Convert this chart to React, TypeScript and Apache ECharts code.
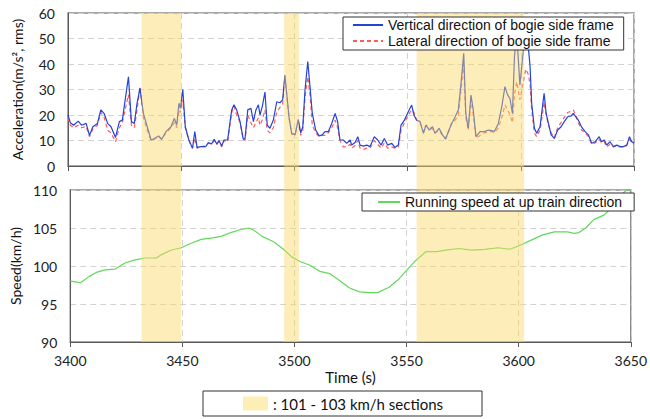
import React, { useEffect, useRef } from "react";
import * as echarts from "echarts";

const accTime = [
  3400, 3401, 3402.5, 3404.5, 3406, 3408, 3409.5, 3411, 3413, 3414.5, 3416, 3417.5, 3419, 3421, 3422.7, 3424,
  3426.7, 3428, 3429.3, 3430.5, 3431.8, 3433.3, 3435, 3436.7, 3438.2, 3440, 3441.4, 3443.3, 3445.5, 3447, 3448,
  3449, 3449.6, 3450.7, 3451.8, 3453.4, 3455, 3456, 3457, 3458.8, 3461, 3462, 3463.4, 3464.6, 3465.7, 3466.7,
  3467.9, 3468.9, 3470.5, 3472.3, 3473.3, 3474.5, 3476, 3477.4, 3478.2, 3479.4, 3480.8, 3481.9, 3483, 3484.1,
  3484.8, 3485.8, 3487, 3488, 3489.2, 3490.7, 3492.2, 3493.6, 3494.8, 3495.8, 3496.6, 3497.6, 3498.8, 3500.3,
  3501.7, 3502.8, 3503.7, 3504.7, 3505.9, 3506.9, 3507.9, 3509.4, 3510.9, 3512.3, 3513.5, 3515, 3516.5, 3518,
  3519.1, 3520.1, 3521.6, 3523.1, 3524.6, 3525.3, 3526.8, 3528, 3529, 3530.4, 3532, 3533.4, 3535.3, 3536.8,
  3538.3, 3539.7, 3541.2, 3543, 3544.4, 3545.9, 3547.1, 3548.6, 3550.3, 3551.8, 3552.8, 3554, 3555.5, 3557,
  3558.1, 3559.6, 3561, 3562.1, 3563.9, 3565.4, 3566.8, 3568, 3569.5, 3571, 3572.4, 3573.6, 3574.8, 3575.7,
  3576.8, 3578, 3579, 3580.2, 3582, 3584, 3585.7, 3587.1, 3588.3, 3590.1, 3591.6, 3593, 3594.2, 3595.2, 3596.3,
  3597.2, 3598.2, 3599.6, 3601.1, 3602.2, 3603.3, 3604.1, 3604.8, 3606, 3607, 3608.5, 3609.2, 3610.3, 3611.2,
  3612.2, 3613.4, 3614.8, 3616.3, 3617.8, 3619.2, 3620.7, 3622.2, 3623.2, 3624.3, 3625.4, 3626.9, 3628.4,
  3629.9, 3631.3, 3632.8, 3634.6, 3635.7, 3636.9, 3637.9, 3639.4, 3640.9, 3642.4, 3643.8, 3645.3, 3646.8,
  3648, 3649, 3650,
];

const accVertical = [
  20, 17, 16, 17.6, 16, 16.7, 12, 15.4, 16.7, 22, 20.5, 16.7, 15.4, 11.2, 17.4, 18,
  35, 17.4, 16.7, 24.6, 30.5, 20.6, 15.4, 10.2, 10.8, 11.8, 10.5, 13.5, 15.4, 18.7, 16,
  24.6, 22.6, 30, 15.4, 10.2, 7, 13.5, 7.3, 7.6, 7.8, 9.2, 8.6, 10.5, 8.6, 10,
  7.8, 10.2, 10.2, 22, 24, 22, 17.4, 10.5, 10.8, 22, 22.6, 17.4, 22, 24,
  20, 23.3, 29, 16, 14.8, 18, 25.2, 24.8, 25.9, 35.7, 28.5, 19.3, 12.8, 12.2,
  18.3, 13, 15.4, 30, 41, 31, 20.6, 14.1, 11.8, 12.2, 13.5, 13.5, 16.7, 20.6,
  17.4, 10.2, 10.2, 8.9, 10.2, 8.2, 9.2, 11.5, 8.2, 7.8, 8.2, 7.6, 11.5, 10.2,
  8.2, 10.8, 8.2, 8.9, 7.3, 8.2, 16, 18, 21.3, 23.9, 20, 18, 17.4, 12.8,
  16, 14.1, 15.4, 12.8, 14.8, 12.2, 10.5, 13.5, 16.7, 19.3, 22, 32.4, 44.2, 20.6,
  14.8, 27.8, 22, 11.5, 13.5, 13.5, 14.1, 13.9, 13.5, 16.7, 23.3, 31.1, 27.8, 26.5, 20.6,
  42.9, 52, 31.8, 45, 55, 46.8, 39, 24.6, 14.8, 12.8, 15.4, 20.6, 28.5, 20.6,
  16.7, 12.2, 10.8, 14.1, 15.4, 17.4, 19.3, 19.6, 20.6, 19.3, 18, 15.2, 13.5,
  12.2, 8.9, 9.5, 11.5, 9.5, 10.2, 8.2, 9.5, 7.6, 8.2, 7.6, 7.6, 8.2,
  11.5, 9.5, 8.9,
];

const accLateral = [
  19, 16, 15, 16, 15, 15.5, 11.5, 14.5, 16, 21, 19, 14, 13, 9.5, 15, 17,
  28, 16, 15, 22, 31, 19, 14, 10, 10.5, 11.5, 10.5, 13, 15, 17, 15,
  22, 21, 26, 15, 10, 7, 11, 7, 7.5, 7.5, 9, 8.5, 10, 8.5, 9.5,
  7.5, 10, 9.5, 21, 23.5, 20, 17, 10.5, 10, 20, 17, 15, 17, 19,
  16, 18, 22, 14, 13, 15, 21, 23, 24, 35, 28, 19, 12.5, 12.5,
  17, 12, 14, 27, 35, 28, 16, 13, 11.5, 12, 12, 13, 15, 18,
  15, 10, 7.5, 7.5, 8.5, 7, 8, 10, 7, 6.5, 7, 7, 10, 8.5,
  7, 9, 7, 7.5, 7, 7.5, 14, 17, 20, 22, 21, 18, 17, 13.5,
  16, 15, 14.5, 13, 14, 12, 11, 13, 17, 18, 20, 30, 40, 19,
  14, 26, 20, 11, 12, 13, 13.5, 13.5, 13, 15, 19, 24, 22, 20, 17,
  28, 33, 26, 33, 38, 36, 32, 22, 13, 11.5, 14, 18, 25, 20,
  16, 13, 11, 15, 17, 19, 21, 21.5, 22, 20, 17, 14, 13,
  11.5, 8.5, 9, 10.5, 9, 9.5, 7.5, 8.5, 7.5, 8, 7.5, 7.5, 8,
  10.5, 9, 8.5,
];

const speedTime = [
  3400, 3402.4, 3404.6, 3408.3, 3412, 3415.6, 3420, 3424.4, 3428.9, 3433.3, 3438.4, 3440.7, 3445.1, 3449.5,
  3453.9, 3458.4, 3463.5, 3467.2, 3471.6, 3476, 3479.7, 3481.9, 3485.6, 3490.7, 3495.1, 3498.8, 3502.5,
  3506.9, 3511.3, 3515.7, 3520.1, 3524.6, 3529, 3533.4, 3537.1, 3542.2, 3546.6, 3549.9, 3554, 3558.7,
  3563.6, 3567.3, 3573.2, 3579, 3584.9, 3590.8, 3596, 3599.7, 3605.6, 3610.7, 3615.9, 3621.8, 3624.7,
  3626.9, 3629.9, 3633.5, 3638, 3640.9, 3643.8, 3648.2, 3650,
];

const speedValues = [
  98.0, 97.9, 97.8, 98.6, 99.2, 99.5, 99.6, 100.4, 100.8, 101.05, 101.05, 101.5, 102.1, 102.4,
  103.0, 103.5, 103.7, 103.9, 104.4, 104.8, 105.0, 104.7, 103.9, 103.2, 102.2, 101.2, 100.6,
  100.1, 99.3, 99.0, 98.1, 97.1, 96.6, 96.5, 96.5, 97.2, 98.3, 99.4, 100.7, 101.9,
  101.9, 102.1, 102.3, 102.1, 102.2, 102.4, 102.2, 102.6, 103.4, 104.1, 104.5, 104.5, 104.3,
  104.4, 105.0, 106.1, 106.7, 107.5, 108.9, 110, 110,
];

// 101 - 103 km/h sections (start, end in seconds)
const shadeStart = [3432.5, 3495.5, 3554];
const shadeEnd = [3450, 3502, 3601.5];

const timeTicks = { min: 3400, max: 3650, interval: 50 };

const FONT = "Lato";

export default function App() {
  const ref = useRef<HTMLDivElement>(null);

  useEffect(() => {
    if (!ref.current) return;
    const chart = echarts.init(ref.current, undefined, { renderer: "svg" });

    const dashed = { show: true, lineStyle: { color: "#d2d2d2", type: [6, 4] as any, width: 1 } };
    const axisLine = { show: true, lineStyle: { color: "#595959", width: 1 } };
    const labelStyle = { fontFamily: FONT, fontSize: 14, color: "#222", formatter: (v: number) => String(v) };

    const pairs = (xs: number[], ys: number[]) => xs.map((x, i) => [x, ys[i]]);

    const option: any = {
      animation: false,
      backgroundColor: "#fff",
      grid: [
        { left: 68, right: 16, top: 13, height: 153, show: true, borderColor: "#8c8c8c", borderWidth: 1.5, backgroundColor: "transparent" },
        { left: 68, right: 16, top: 190, height: 152, show: true, borderColor: "#8c8c8c", borderWidth: 1.5, backgroundColor: "transparent" },
        { left: 68, right: 16, top: 13, height: 329 },
      ],
      xAxis: [
        {
          type: "value", gridIndex: 0, ...timeTicks,
          axisLine, axisTick: { show: true, length: 5, lineStyle: { color: "#595959" } },
          axisLabel: { show: false }, splitLine: dashed,
        },
        {
          type: "value", gridIndex: 1, ...timeTicks,
          axisLine, axisTick: { show: true, length: 5, lineStyle: { color: "#595959" } },
          axisLabel: { ...labelStyle, margin: 11 }, splitLine: dashed,
          name: "Time (s)", nameLocation: "middle", nameGap: 27,
          nameTextStyle: { fontFamily: FONT, fontSize: 15, color: "#111" },
        },
        { type: "value", gridIndex: 2, ...timeTicks, show: false },
      ],
      yAxis: [
        {
          type: "value", gridIndex: 0, min: 0, max: 60, interval: 10,
          axisLine, axisTick: { show: false }, axisLabel: { ...labelStyle, margin: 13 }, splitLine: dashed,
          name: "Acceleration(m/s², rms)", nameLocation: "middle", nameGap: 44,
          nameTextStyle: { fontFamily: FONT, fontSize: 14, color: "#111" },
        },
        {
          type: "value", gridIndex: 1, min: 90, max: 110, interval: 5,
          axisLine, axisTick: { show: false }, axisLabel: { ...labelStyle, margin: 13 }, splitLine: dashed,
          name: "Speed(km/h)", nameLocation: "middle", nameGap: 44,
          nameTextStyle: { fontFamily: FONT, fontSize: 14, color: "#111" },
        },
        { type: "value", gridIndex: 2, min: 0, max: 1, show: false },
      ],
      legend: [
        {
          data: ["Vertical direction of bogie side frame", "Lateral direction of bogie side frame"],
          orient: "vertical", left: 343, top: 17, itemWidth: 30, itemHeight: 14, itemGap: 2,
          padding: [1, 10, 2, 9], borderColor: "#333", borderWidth: 1, backgroundColor: "#fff",
          itemStyle: { opacity: 0 },
          textStyle: { fontFamily: "Liberation Sans", fontSize: 14, color: "#111" }, z: 20,
        },
        {
          data: ["Running speed at up train direction"],
          left: 362, top: 193, itemWidth: 22, itemHeight: 14,
          padding: [2, 12, 2, 15], borderColor: "#333", borderWidth: 1, backgroundColor: "#fff",
          itemStyle: { opacity: 0 },
          textStyle: { fontFamily: "Liberation Sans", fontSize: 14, color: "#111" }, z: 20,
        },
        {
          data: [{ name: ": 101 - 103 km/h sections", icon: "rect" }],
          left: 203, top: 391, itemWidth: 25, itemHeight: 14, itemGap: 10,
          padding: [5, 39, 5, 40], borderColor: "#333", borderWidth: 1, backgroundColor: "#fff",
          textStyle: { fontFamily: FONT, fontSize: 15, color: "#111" }, z: 20,
        },
      ],
      series: [
        {
          name: "Vertical direction of bogie side frame", type: "line", xAxisIndex: 0, yAxisIndex: 0,
          data: pairs(accTime, accVertical), symbol: "none", z: 3,
          lineStyle: { color: "#2443d8", width: 1.2 }, itemStyle: { color: "#2443d8" },
        },
        {
          name: "Lateral direction of bogie side frame", type: "line", xAxisIndex: 0, yAxisIndex: 0,
          data: pairs(accTime, accLateral), symbol: "none", z: 2,
          lineStyle: { color: "#ff5c5c", width: 1.2, type: [4, 3] }, itemStyle: { color: "#ff5c5c" },
        },
        {
          name: "Running speed at up train direction", type: "line", xAxisIndex: 1, yAxisIndex: 1,
          data: pairs(speedTime, speedValues), symbol: "none",
          lineStyle: { color: "#62d85a", width: 1.2 }, itemStyle: { color: "#62d85a" },
        },
        {
          name: ": 101 - 103 km/h sections", type: "bar", xAxisIndex: 2, yAxisIndex: 2,
          data: [], z: 10, itemStyle: { color: "#fdeeb5" },
          markArea: {
            silent: true, z: 10,
            itemStyle: { color: "rgba(250, 214, 100, 0.45)" },
            data: shadeStart.map((s, i) => [{ xAxis: s }, { xAxis: shadeEnd[i] }]),
          },
        },
      ],
    };

    chart.setOption(option);
    return () => chart.dispose();
  }, []);

  return <div ref={ref} style={{ width: 650, height: 419, position: "absolute", left: 0, top: 0 }} />;
}
